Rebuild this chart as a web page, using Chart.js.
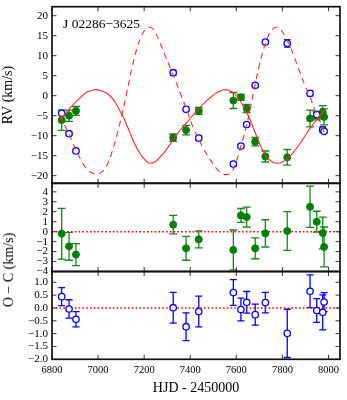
<!DOCTYPE html>
<html>
<head>
<meta charset="utf-8">
<script src="https://cdn.jsdelivr.net/npm/chart.js@4.4.1/dist/chart.umd.min.js"></script>
<style>
html,body{margin:0;padding:0;background:#fff;}
#wrap{position:relative;width:347px;height:400px;overflow:hidden;background:#fff;}
canvas{position:absolute;left:0;top:0;}
.lbl{position:absolute;font-family:'Liberation Serif','Times New Roman',serif;color:#000;white-space:nowrap;line-height:1;}
</style>
</head>
<body>
<div id="wrap">
<canvas id="c1" width="347" height="400"></canvas>
<canvas id="c2" width="347" height="400"></canvas>
<canvas id="c3" width="347" height="400"></canvas>
<div class="lbl" style="left:63px;top:16.5px;font-size:13.5px;">J 02286−3625</div>
<div class="lbl" style="left:9px;top:270px;font-size:14px;transform:translate(-50%,-50%) rotate(-90deg);">O − C (km/s)</div>
</div>
<script>
// ---------- data ----------
const obsHJD = [6842, 6874, 6904, 7326, 7382, 7437, 7587, 7620, 7645, 7682, 7726, 7821, 7920, 7949, 7975, 7981];
const rvPrimary = [-6.1, -5.0, -3.8, -10.5, -8.6, -3.8, -1.2, -0.4, -3.2, -11.5, -15.2, -15.4, -5.7, -5.0, -4.1, -5.3];
const errPrimary = [2.55, 1.4, 1.1, 0.93, 1.2, 0.85, 2.0, 0.7, 1.0, 1.05, 1.37, 1.95, 2.07, 1.05, 1.6, 2.0];
const rvSecondary = [-4.4, -9.5, -13.8, 5.75, -3.4, -10.6, -17.1, -12.6, -7.2, 2.6, 13.4, 13.1, 0.6, -4.7, -8.5, -8.9];
const errSecondary = [0.35, 0.36, 0.3, 0.6, 0.54, 0.6, 0.5, 0.44, 0.42, 0.41, 0.4, 0.94, 0.64, 0.46, 0.68, 0.37];
const ocPrimary = [-0.2, -1.47, -2.3, 0.7, -1.67, -0.77, -1.83, 1.63, 1.47, -1.67, -0.17, 0.07, 2.5, 1.0, -0.13, -1.53];
const ocSecondary = [0.44, -0.04, -0.44, 0.01, -0.73, -0.14, 0.6, -0.06, 0.22, -0.26, 0.21, -0.99, 0.65, -0.1, -0.17, 0.23];

const modelHJD1 = [6838, 6860, 6880, 6905, 6930, 6955, 6985, 7010, 7033, 7055, 7075, 7095, 7115, 7135, 7155, 7175, 7195, 7220, 7245, 7270, 7295, 7326, 7355, 7382, 7410, 7437, 7465, 7493, 7520, 7545, 7568, 7590, 7612, 7632, 7652, 7672, 7692, 7712, 7732, 7755, 7778, 7803, 7828, 7852, 7876, 7900, 7925, 7950, 7975, 7985];
const modelRV1 = [-5.9, -4.3, -3.0, -1.5, -0.1, 1.0, 1.5, 1.3, 0.8, -0.2, -1.7, -3.8, -6.0, -8.8, -11.6, -13.8, -15.5, -16.8, -16.6, -15.3, -13.6, -11.0, -8.7, -6.9, -5.0, -3.2, -1.6, -0.2, 0.9, 1.5, 1.3, 0.6, -0.9, -2.8, -5.1, -7.8, -10.7, -13.4, -15.3, -16.5, -16.9, -16.5, -15.4, -13.8, -12.0, -9.9, -7.8, -5.9, -4.1, -3.5];

const modelHJD2 = [6838, 6855, 6874, 6890, 6904, 6924, 6945, 6970, 6995, 7018, 7039, 7061, 7082, 7104, 7126, 7147, 7169, 7191, 7210, 7227, 7245, 7265, 7290, 7312, 7333, 7360, 7384, 7412, 7437, 7460, 7490, 7520, 7550, 7575, 7595, 7620, 7645, 7665, 7682, 7700, 7718, 7738, 7755, 7775, 7795, 7812, 7830, 7850, 7875, 7900, 7920, 7941, 7960, 7977, 7985];
const modelRV2 = [-4.9, -7.4, -9.6, -11.8, -13.5, -15.9, -17.9, -19.2, -19.6, -19.0, -17.3, -14.0, -9.8, -4.6, 1.2, 6.9, 11.9, 15.3, 16.8, 17.1, 16.2, 13.7, 10.2, 7.1, 4.2, 0.1, -3.4, -7.9, -10.9, -13.5, -16.3, -18.6, -19.7, -19.3, -17.2, -12.6, -7.3, -1.9, 2.9, 7.6, 11.6, 14.9, 16.5, 17.1, 16.4, 14.8, 12.7, 9.9, 6.0, 2.3, -0.3, -3.5, -6.0, -8.5, -9.6];

const xTicks = [6800, 7000, 7200, 7400, 7600, 7800, 8000];
const rvTicks = [-20, -15, -10, -5, 0, 5, 10, 15, 20];
const ocPTicks = [-4, -3, -2, -1, 0, 1, 2, 3, 4];
const ocSTicks = [-2.0, -1.5, -1.0, -0.5, 0.0, 0.5, 1.0];
const zeroLevel = [0];
const xMin = 6800, xMax = 8050;

// ---------- helpers ----------
const serif = "'Liberation Serif','Times New Roman',serif";
Chart.defaults.font.family = serif;
Chart.defaults.color = '#000';

const pts = (xs, ys) => xs.map((x, i) => ({x: x, y: ys[i]}));
const minus = s => String(s).replace('-', '\u2212');

const panelPlugin = {
  id: 'panel',
  beforeDatasetsDraw(chart) {
    const ctx = chart.ctx, xs = chart.scales.x, ys = chart.scales.y, a = chart.chartArea;
    ctx.save();
    ctx.beginPath(); ctx.rect(a.left, a.top, a.right - a.left, a.bottom - a.top); ctx.clip();
    chart.data.datasets.forEach(ds => {
      if (!ds.errorBars) return;
      ctx.strokeStyle = ds.errorColor; ctx.lineWidth = 1.3;
      const cap = ds.capHalf;
      ds.data.forEach((p, j) => {
        const e = ds.errorBars[j];
        const x = xs.getPixelForValue(p.x);
        const y1 = ys.getPixelForValue(p.y - e), y2 = ys.getPixelForValue(p.y + e);
        ctx.beginPath();
        ctx.moveTo(x, y1); ctx.lineTo(x, y2);
        ctx.moveTo(x - cap, y1); ctx.lineTo(x + cap, y1);
        ctx.moveTo(x - cap, y2); ctx.lineTo(x + cap, y2);
        ctx.stroke();
      });
    });
    ctx.restore();
  },
  afterDraw(chart, args, opts) {
    const ctx = chart.ctx, xs = chart.scales.x, ys = chart.scales.y, a = chart.chartArea;
    ctx.save();
    ctx.strokeStyle = '#333'; ctx.lineWidth = 1;
    const L = 4.5;
    opts.yTicks.forEach(v => {
      const y = ys.getPixelForValue(v);
      ctx.beginPath();
      ctx.moveTo(a.left, y); ctx.lineTo(a.left + L, y);
      ctx.moveTo(a.right, y); ctx.lineTo(a.right - L, y);
      ctx.stroke();
    });
    xTicks.forEach(v => {
      const x = xs.getPixelForValue(v);
      ctx.beginPath();
      ctx.moveTo(x, a.top); ctx.lineTo(x, a.top + L);
      ctx.moveTo(x, a.bottom); ctx.lineTo(x, a.bottom - L);
      ctx.stroke();
    });
    ctx.strokeStyle = '#111'; ctx.lineWidth = 1.7;
    ctx.strokeRect(a.left, a.top, a.right - a.left, a.bottom - a.top);
    ctx.restore();
  }
};

function yScale(min, max, ticksArr, fmt, title) {
  return {
    type: 'linear', position: 'left', min: min, max: max,
    grid: {display: false, drawTicks: false}, border: {display: false},
    afterBuildTicks: s => { s.ticks = ticksArr.map(v => ({value: v})); },
    afterFit: s => { s.width = 52; s.paddingTop = 0; s.paddingBottom = 0; },
    ticks: {padding: 4, autoSkip: false, font: {size: 11}, color: '#000', callback: v => fmt(v)},
    title: title ? {display: true, text: title, font: {size: 14}, padding: 0, color: '#000'} : {display: false}
  };
}
function xHidden() {
  return {type: 'linear', min: xMin, max: xMax, display: false};
}
function xShown() {
  return {
    type: 'linear', min: xMin, max: xMax, position: 'bottom',
    grid: {display: false, drawTicks: false}, border: {display: false},
    afterBuildTicks: s => { s.ticks = xTicks.map(v => ({value: v})); },
    afterFit: s => { s.height = 400 - 359.3; s.paddingLeft = 0; s.paddingRight = 0; },
    ticks: {padding: 5, autoSkip: false, maxRotation: 0, font: {size: 10.5}, color: '#000', callback: v => String(v)},
    title: {display: true, text: 'HJD - 2450000', font: {size: 14}, padding: {top: 0, bottom: 3}, color: '#000'}
  };
}
function baseOptions(padTop, padBottom, scales, yT) {
  return {
    responsive: false, animation: false, devicePixelRatio: 1,
    layout: {padding: {left: 0, right: 7, top: padTop, bottom: padBottom}},
    plugins: {legend: {display: false}, tooltip: {enabled: false}, panel: {yTicks: yT}},
    scales: scales
  };
}
const zeroData = () => [{x: xMin, y: zeroLevel[0]}, {x: xMax, y: zeroLevel[0]}];

// ---------- top panel: RV ----------
new Chart(document.getElementById('c1'), {
  type: 'line',
  data: {datasets: [
    {data: pts(modelHJD1, modelRV1), showLine: true, borderColor: '#ff2a2a', borderWidth: 1.1, pointRadius: 0, tension: 0.4, fill: false, order: 0},
    {data: pts(modelHJD2, modelRV2), showLine: true, borderColor: '#ff2a2a', borderWidth: 1.1, borderDash: [6, 4.5], borderDashOffset: 0,
     pointRadius: 0, tension: 0.4, fill: false, order: 0},
    {data: pts(obsHJD, rvSecondary), showLine: false, pointRadius: 3.2, backgroundColor: '#fff', borderColor: '#0000ff', borderWidth: 1.3, errorBars: errSecondary, errorColor: '#0000ff', capHalf: 3.2, order: 1},
    {data: pts(obsHJD, rvPrimary), showLine: false, pointRadius: 3.5, backgroundColor: '#007f00', borderColor: '#007f00', borderWidth: 1, errorBars: errPrimary, errorColor: '#1a861a', capHalf: 4, order: 2}
  ]},
  options: baseOptions(6.7, 400 - 183.3, {x: xHidden(), y: yScale(-21.9, 22.25, rvTicks, minus, 'RV (km/s)')}, rvTicks),
  plugins: [panelPlugin]
});

// ---------- middle panel: O-C primary ----------
new Chart(document.getElementById('c2'), {
  type: 'line',
  data: {datasets: [
    {data: zeroData(), showLine: true, borderColor: '#ff0000', borderWidth: 1.6, borderDash: [1.6, 2.2], pointRadius: 0, fill: false, order: 3},
    {data: pts(obsHJD, ocPrimary), showLine: false, pointRadius: 3.5, backgroundColor: '#007f00', borderColor: '#007f00', borderWidth: 1, errorBars: errPrimary, errorColor: '#1a861a', capHalf: 4, order: 1}
  ]},
  options: baseOptions(183.3, 400 - 271.5, {x: xHidden(), y: yScale(-4, 4.86, ocPTicks, minus, null)}, ocPTicks),
  plugins: [panelPlugin]
});

// ---------- bottom panel: O-C secondary ----------
new Chart(document.getElementById('c3'), {
  type: 'line',
  data: {datasets: [
    {data: zeroData(), showLine: true, borderColor: '#ff0000', borderWidth: 1.6, borderDash: [1.6, 2.2], pointRadius: 0, fill: false, order: 3},
    {data: pts(obsHJD, ocSecondary), showLine: false, pointRadius: 3.2, backgroundColor: '#fff', borderColor: '#0000ff', borderWidth: 1.3, errorBars: errSecondary, errorColor: '#0000ff', capHalf: 3.5, order: 1}
  ]},
  options: baseOptions(271.5, 0, {x: xShown(), y: yScale(-2.0, 1.42, ocSTicks, v => minus(Number(v).toFixed(1)), null)}, ocSTicks),
  plugins: [panelPlugin]
});
</script>
</body>
</html>
